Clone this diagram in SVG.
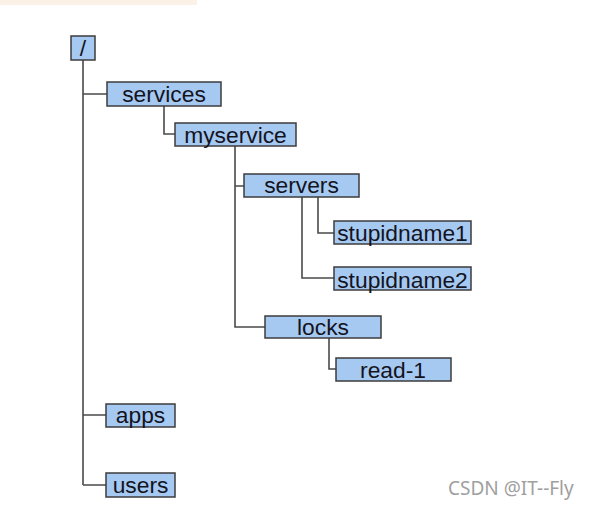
<svg xmlns="http://www.w3.org/2000/svg" width="589" height="508" viewBox="0 0 589 508">
<style>
.box{fill:#a6c9f2;stroke:#3c3c3c;stroke-width:1.5}
.lbl{font-family:"Liberation Sans",Arial,sans-serif;font-size:22.8px;fill:#14141e;text-anchor:middle}
.con{fill:none;stroke:#4a4a4a;stroke-width:1.6}
.wm{font-family:"Noto Sans","Open Sans",sans-serif;font-size:19px;fill:#a0a0a0}
</style>
<rect x="0" y="0" width="589" height="508" fill="#ffffff"/>
<rect x="0" y="0" width="197" height="5" fill="#fbf1e7"/>
<g id="connectors">
<path class="con" d="M83 60 V485 M83 94 H107 M83 415 H106 M83 485 H106"/>
<path class="con" d="M164 106 V134 H175"/>
<path class="con" d="M235 146 V327 H265 M235 186 H244"/>
<path class="con" d="M318 197 V233 H334 M302 197 V278 H334"/>
<path class="con" d="M329 338 V369 H336"/>
</g>
<g id="root"><rect class="box" x="71" y="36" width="24" height="24"/><text class="lbl" x="83" y="56">/</text></g>
<g id="services"><rect class="box" x="107" y="82" width="114" height="24"/><text class="lbl" x="164" y="102">services</text></g>
<g id="myservice"><rect class="box" x="175" y="123" width="121" height="23"/><text class="lbl" x="235.5" y="143">myservice</text></g>
<g id="servers"><rect class="box" x="244" y="174" width="115" height="23"/><text class="lbl" x="301.5" y="193">servers</text></g>
<g id="stupidname1"><rect class="box" x="334" y="221" width="137" height="23"/><text class="lbl" x="402.5" y="241">stupidname1</text></g>
<g id="stupidname2"><rect class="box" x="334" y="267" width="137" height="23"/><text class="lbl" x="402.5" y="288">stupidname2</text></g>
<g id="locks"><rect class="box" x="265" y="316" width="116" height="22"/><text class="lbl" x="323" y="335">locks</text></g>
<g id="read-1"><rect class="box" x="336" y="358" width="115" height="23"/><text class="lbl" x="393" y="378">read-1</text></g>
<g id="apps"><rect class="box" x="106" y="404" width="69" height="23"/><text class="lbl" x="140.5" y="423">apps</text></g>
<g id="users"><rect class="box" x="106" y="473" width="69" height="24"/><text class="lbl" x="140.5" y="493">users</text></g>
<text class="wm" x="448" y="495">CSDN @IT--Fly</text>
</svg>
